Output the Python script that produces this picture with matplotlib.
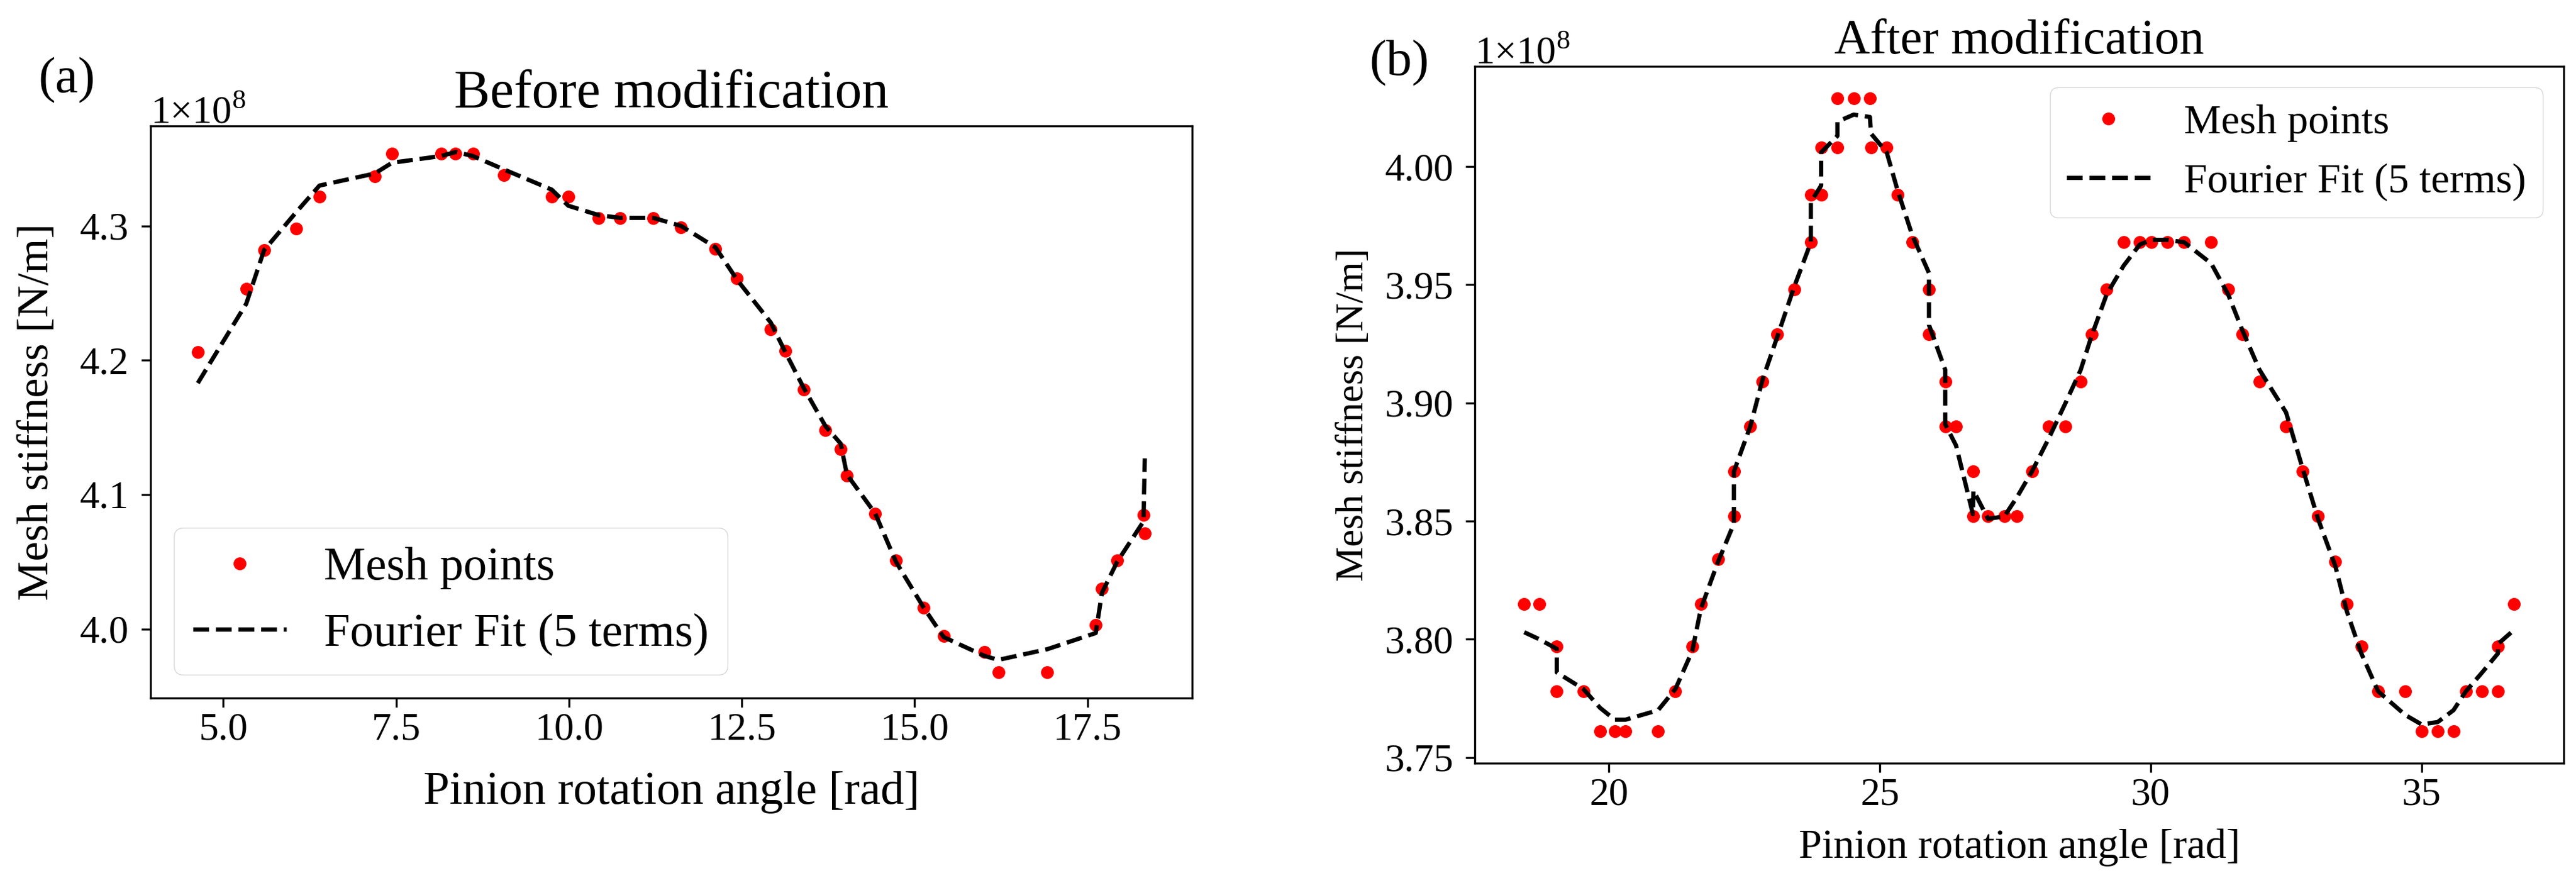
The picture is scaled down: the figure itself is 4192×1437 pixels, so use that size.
import matplotlib
matplotlib.use('Agg')
import matplotlib.pyplot as plt
from matplotlib.ticker import ScalarFormatter

plt.rcParams['font.family'] = ['Liberation Serif', 'DejaVu Serif']
plt.rcParams['mathtext.fontset'] = 'custom'
plt.rcParams['mathtext.rm'] = 'Liberation Serif'

# (a) before modification: pinion angle [rad], mesh stiffness [N/m]
angle_a = [4.63, 5.33, 5.59, 6.05, 6.39, 7.19, 7.44, 8.15, 8.36, 8.61, 9.06, 9.75, 9.99,
           10.43, 10.74, 11.22, 11.62, 12.12, 12.43, 12.92, 13.13, 13.40, 13.71, 13.93,
           14.02, 14.43, 14.73, 15.13, 15.42, 16.01, 16.21, 16.92, 17.62, 17.71, 17.93,
           18.31, 18.33]
stiff_a = [4.206, 4.253, 4.282, 4.298, 4.322, 4.337, 4.354, 4.354, 4.354, 4.354, 4.338,
           4.322, 4.322, 4.306, 4.306, 4.306, 4.299, 4.283, 4.261, 4.223, 4.207, 4.178,
           4.148, 4.134, 4.114, 4.086, 4.051, 4.016, 3.995, 3.983, 3.968, 3.968, 4.003,
           4.030, 4.051, 4.085, 4.071]
fit_a = [4.183, 4.242, 4.282, 4.310, 4.330, 4.339, 4.347, 4.352, 4.355, 4.352, 4.342,
         4.327, 4.315, 4.308, 4.306, 4.306, 4.300, 4.284, 4.260, 4.228, 4.206, 4.179,
         4.151, 4.138, 4.115, 4.086, 4.050, 4.016, 3.994, 3.980, 3.977, 3.985, 3.997,
         4.027, 4.050, 4.080, 4.127]

# (b) after modification
angle_b = [18.44, 18.72, 19.04, 19.04, 19.53, 19.84, 20.11, 20.31, 20.91, 21.23, 21.54,
           21.70, 22.02, 22.31, 22.31, 22.61, 22.84, 23.11, 23.42, 23.73, 23.73, 23.92,
           23.92, 24.22, 24.22, 24.52, 24.82, 24.84, 25.13, 25.33, 25.60, 25.91, 25.91,
           26.21, 26.21, 26.41, 26.72, 26.73, 27.00, 27.30, 27.53, 27.81, 28.12, 28.43,
           28.71, 28.92, 29.19, 29.50, 29.80, 30.01, 30.31, 30.62, 31.12, 31.43, 31.69,
           32.01, 32.50, 32.81, 33.09, 33.41, 33.62, 33.89, 34.20, 34.70, 35.00, 35.30,
           35.59, 35.82, 36.12, 36.41, 36.41, 36.71]
stiff_b = [3.815, 3.815, 3.797, 3.778, 3.778, 3.761, 3.761, 3.761, 3.761, 3.778, 3.797,
           3.815, 3.834, 3.852, 3.871, 3.890, 3.909, 3.929, 3.948, 3.968, 3.988, 3.988,
           4.008, 4.008, 4.029, 4.029, 4.029, 4.008, 4.008, 3.988, 3.968, 3.948, 3.929,
           3.909, 3.890, 3.890, 3.852, 3.871, 3.852, 3.852, 3.852, 3.871, 3.890, 3.890,
           3.909, 3.929, 3.948, 3.968, 3.968, 3.968, 3.968, 3.968, 3.968, 3.948, 3.929,
           3.909, 3.890, 3.871, 3.852, 3.833, 3.815, 3.797, 3.778, 3.778, 3.761, 3.761,
           3.761, 3.778, 3.778, 3.778, 3.797, 3.815]
fit_b = [3.803, 3.800, 3.796, 3.786, 3.779, 3.771, 3.766, 3.766, 3.770, 3.779, 3.795,
         3.813, 3.833, 3.849, 3.871, 3.890, 3.910, 3.928, 3.949, 3.968, 3.985, 3.992,
         4.006, 4.013, 4.019, 4.022, 4.021, 4.014, 4.006, 3.990, 3.971, 3.955, 3.933,
         3.914, 3.891, 3.882, 3.853, 3.863, 3.851, 3.852, 3.860, 3.871, 3.885, 3.900,
         3.914, 3.929, 3.946, 3.958, 3.967, 3.969, 3.969, 3.968, 3.959, 3.946, 3.931,
         3.914, 3.896, 3.872, 3.851, 3.831, 3.812, 3.794, 3.778, 3.768, 3.764, 3.765,
         3.770, 3.778, 3.786, 3.794, 3.798, 3.804]

xticks_a = [5.0, 7.5, 10.0, 12.5, 15.0, 17.5]
yticks_a = [4.0, 4.1, 4.2, 4.3]
xticks_b = [20, 25, 30, 35]
yticks_b = [3.75, 3.80, 3.85, 3.90, 3.95, 4.00]
scale = 1e8


class SciFormatter(ScalarFormatter):
    def get_offset(self):
        return '1×10$^{8}$'


def draw_panel(ax, x, y, fit, xt, yt, title, fs, loc):
    ax.plot(x, [v * scale for v in y], 'o', color='red', ms=14, label='Mesh points')
    ax.plot(x, [v * scale for v in fit], '--', color='black', lw=5,
            label='Fourier Fit (5 terms)')
    ax.set_xticks(xt)
    ax.set_yticks([v * scale for v in yt])
    fmt = SciFormatter(useOffset=False)
    ax.yaxis.set_major_formatter(fmt)
    ax.tick_params(axis='both', labelsize=46, length=11, width=2.4)
    ax.tick_params(axis='x', pad=6)
    ax.tick_params(axis='y', pad=14)
    ax.yaxis.get_offset_text().set_fontsize(46)
    for s in ax.spines.values():
        s.set_linewidth(2.4)
    ax.set_title(title, fontsize=fs['title'], pad=fs['tpad'])
    ax.set_xlabel('Pinion rotation angle [rad]', fontsize=fs['label'], va='center')
    ax.set_ylabel('Mesh stiffness [N/m]', fontsize=fs['ylabel'], va='center')
    ax.xaxis.set_label_coords(0.5, fs['xl'])
    ax.yaxis.set_label_coords(fs['yl'], 0.5)
    ax.legend(loc=loc, fontsize=fs['legend'])


fig = plt.figure(figsize=(41.92, 14.37), dpi=100)
ax1 = fig.add_axes([0.0584, 0.2095, 0.4044, 0.6478])
ax2 = fig.add_axes([0.5725, 0.1357, 0.4227, 0.7891])

draw_panel(ax1, angle_a, stiff_a, fit_a, xticks_a, yticks_a, 'Before modification',
           dict(title=63, tpad=22, label=55, ylabel=52, legend=55, xl=-0.165, yl=-0.109),
           'lower left')
draw_panel(ax2, angle_b, stiff_b, fit_b, xticks_b, yticks_b, 'After modification',
           dict(title=58, tpad=15, label=49, ylabel=46, legend=49, xl=-0.121, yl=-0.111),
           'upper right')

fig.text(0.0258, 0.9088, '(a)', fontsize=60, ha='center', va='center')
fig.text(0.5432, 0.9283, '(b)', fontsize=60, ha='center', va='center')

fig.savefig('out.png', dpi=100)
